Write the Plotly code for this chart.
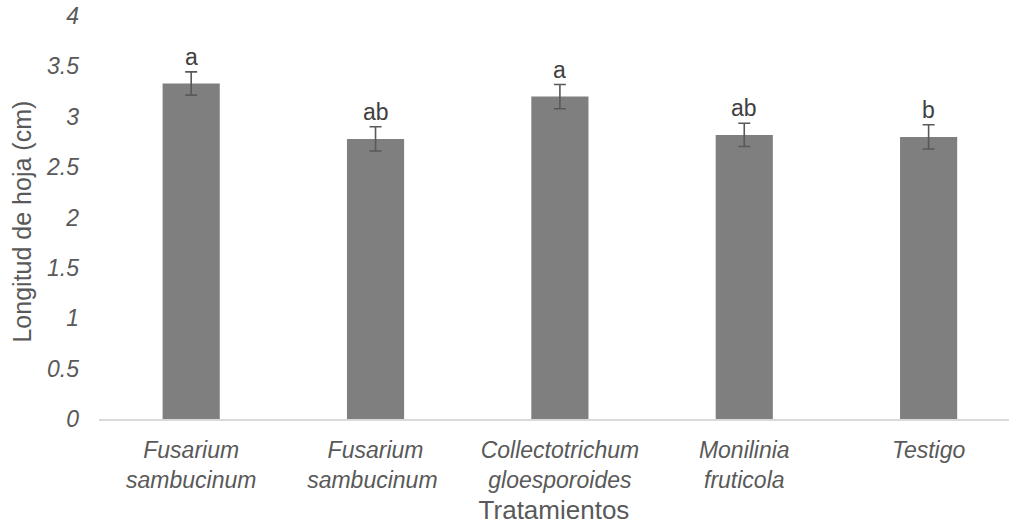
import plotly.graph_objects as go

categories = ["Fusarium<br>sambucinum", "Fusarium<br>sambucinum ", "Collectotrichum<br>gloesporoides",
              "Monilinia<br>fruticola", "Testigo"]
values = [3.33, 2.78, 3.20, 2.82, 2.80]
errors = [0.115, 0.12, 0.12, 0.115, 0.12]
letters = ["a", "ab", "a", "ab", "b"]
y_ticks = [0, 0.5, 1, 1.5, 2, 2.5, 3, 3.5, 4]
y_tick_labels = ["0", "0.5", "1", "1.5", "2", "2.5", "3", "3.5", "4"]

FONT = "Liberation Sans, Arial, sans-serif"

fig = go.Figure()
fig.add_trace(go.Bar(
    x=categories, y=values, width=0.31,
    marker=dict(color="#7f7f7f", line=dict(width=0)),
    error_y=dict(type="data", array=errors, visible=True, color="#595959", thickness=1.6, width=6),
    hoverinfo="skip",
))

for c, v, e, l in zip(categories, values, errors, letters):
    fig.add_annotation(x=c, y=v + e, text=l, showarrow=False, yanchor="bottom",
                       yshift=0, font=dict(family=FONT, size=23, color="#404040"))

# y-axis title as annotation for exact placement
PLOT_W = 1009 - 99
fig.add_annotation(xref="paper", yref="paper", x=(22 - 99) / PLOT_W, y=0.49, text="Longitud de hoja (cm)",
                   textangle=-90, showarrow=False, xanchor="center", yanchor="middle",
                   font=dict(family=FONT, size=25, color="#595959"))

fig.update_layout(
    width=1009, height=525,
    margin=dict(l=99, r=0, t=16, b=106),
    plot_bgcolor="white", paper_bgcolor="white",
    showlegend=False,
    font=dict(family=FONT, color="#595959"),
    xaxis=dict(
        type="category", range=[-0.5, 4.436], automargin=False,
        showline=True, linecolor="#d9d9d9", linewidth=1.5,
        showgrid=False, ticks="", ticklabelstandoff=10,
        tickfont=dict(family=FONT, size=23, color="#595959", style="italic"),
        title=dict(text="Tratamientos", font=dict(family=FONT, size=26, color="#595959"), standoff=9),
    ),
    yaxis=dict(
        range=[0, 4], tickvals=y_ticks, ticktext=y_tick_labels, automargin=False,
        showgrid=False, zeroline=False, showline=False, ticks="",
        ticklabelstandoff=19, ticklabeloverflow="allow",
        tickfont=dict(family=FONT, size=23, color="#595959", style="italic"),
    ),
)

fig.write_html("out.html", config={"displayModeBar": False},
               post_script="document.body.style.margin='0px';")
